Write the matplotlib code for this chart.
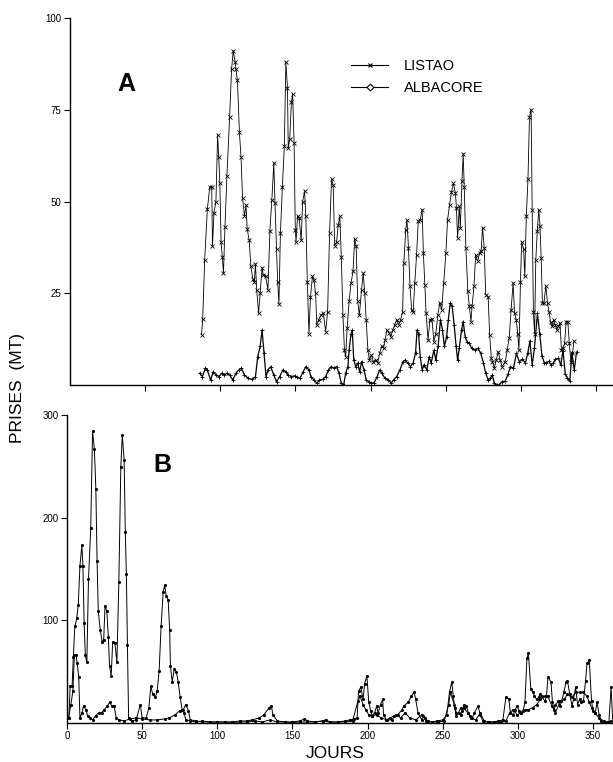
import numpy as np
import matplotlib
matplotlib.use("Agg")
import matplotlib.pyplot as plt
from matplotlib.lines import Line2D

plt.rcParams['font.family'] = ['Liberation Sans', 'DejaVu Sans']

# Panel A (day, catch in MT)
listao_a = [
    (87.5, 13.7), (88.3, 18), (89.6, 34), (91.4, 48), (93.0, 54), (94.3, 54), (94.8, 38), (95.8, 47),
    (97.1, 50), (98.2, 68), (99.0, 62), (99.7, 55), (100.5, 39), (101.3, 35), (102.1, 30.5), (103.1, 43),
    (104.4, 57), (106.2, 73), (107.5, 86), (108.6, 91), (109.9, 88), (110.4, 86), (111.4, 83), (112.7, 69),
    (113.8, 62), (114.8, 51), (116.1, 46), (117.1, 49), (117.9, 42.5), (119.2, 39.5), (120.3, 32.5), (121.6, 29),
    (122.6, 28), (123.4, 33), (124.2, 26), (125.5, 19.6), (126.5, 25), (127.8, 32), (128.6, 30), (130.1, 29.7),
    (131.7, 26), (133.0, 42), (134.3, 50.5), (135.6, 60.5), (136.4, 49.6), (137.4, 37), (138.2, 28), (139.0, 22),
    (140.0, 41.4), (141.3, 54), (142.6, 65), (143.6, 88), (144.7, 81), (145.2, 64.5), (146.2, 67), (147.3, 77),
    (148.1, 79.4), (149.1, 66), (149.9, 42.3), (150.4, 39), (151.4, 46), (152.5, 45.5), (153.8, 39.4), (154.8, 50),
    (156.1, 52.8), (156.9, 46), (157.9, 28), (159.0, 14), (160.0, 24), (161.3, 29.6), (162.3, 28.7), (163.4, 25),
    (164.2, 16.4), (165.5, 17.8), (167.0, 19), (168.6, 19.6), (170.1, 14.5), (171.4, 20), (172.7, 41.4), (174.0, 56),
    (175.1, 54.6), (176.1, 38), (177.4, 39), (178.4, 43.5), (179.5, 46), (180.5, 35), (181.6, 19), (182.6, 9.5),
    (183.4, 7.7), (184.4, 15.5), (185.7, 22.8), (187.0, 27.8), (188.3, 31), (189.4, 39.8), (190.4, 37.8), (191.4, 23),
    (192.5, 19), (194.0, 26), (195.1, 30.5), (196.1, 25), (197.1, 17.8), (198.2, 9.5), (199.2, 6.8), (200.5, 8.2),
    (201.8, 6.4), (203.4, 6.8), (204.7, 6), (206.0, 8.6), (207.3, 10.5), (208.6, 10), (209.6, 12.3), (210.9, 15),
    (212.2, 14.3), (213.5, 13.2), (214.8, 15), (216.1, 16.4), (217.4, 17.8), (218.7, 16.4), (220.0, 17.8), (221.3, 20),
    (222.1, 33.2), (223.4, 42.3), (224.2, 45), (225.2, 37.3), (226.2, 27), (227.3, 20.5), (228.3, 20), (229.4, 27.8),
    (230.6, 35.5), (231.7, 44.6), (233.0, 45), (234.3, 47.8), (235.1, 36), (236.1, 27.3), (236.9, 19.6), (238.2, 12.3),
    (239.5, 17.8), (240.8, 18), (242.1, 11.8), (243.4, 14), (244.7, 19), (246.0, 22.3), (247.3, 20.5), (248.6, 27.8),
    (250.1, 36), (251.2, 45), (252.5, 49), (253.8, 52.5), (255.1, 55), (256.4, 52.4), (257.1, 48.3), (257.9, 40),
    (259.0, 48.7), (259.7, 42.8), (260.8, 55.6), (261.6, 63), (262.3, 54), (263.4, 37.3), (264.7, 25.5), (265.7, 21.4),
    (266.8, 17.3), (267.5, 21.4), (268.8, 27), (269.9, 35.5), (271.2, 33.7), (272.5, 36), (273.5, 36.4), (274.5, 42.8),
    (275.6, 37.3), (276.6, 24.6), (278.2, 24.1), (279.2, 13.7), (280.3, 7.3), (281.0, 6.4), (282.3, 4.6), (283.6, 6.8),
    (284.9, 9.1), (286.2, 6.8), (287.5, 5), (289.6, 6.4), (290.9, 9.5), (292.2, 12.7), (293.5, 20.5), (294.8, 27.8),
    (295.8, 19.6), (296.9, 17.8), (297.9, 14), (298.7, 9.5), (299.7, 28), (300.5, 39), (301.8, 37), (302.6, 29.6),
    (303.6, 46), (304.7, 56), (305.7, 73), (306.8, 75), (307.5, 47.8), (308.3, 20), (309.1, 14), (309.9, 34),
    (310.9, 42), (311.9, 47.8), (312.7, 43.3), (313.5, 34.6), (314.3, 22.3), (315.3, 22.3), (316.6, 27), (317.7, 22.3),
    (318.7, 20), (319.7, 17.3), (320.8, 16), (321.8, 17.8), (322.9, 16.4), (323.9, 15), (324.9, 16), (326.0, 16.8),
    (327.0, 9.5), (328.1, 10), (329.1, 11.4), (330.1, 17.3), (331.2, 17.3), (332.2, 11.4), (333.2, 6.4), (334.3, 8.6),
    (335.3, 12),
]

albacore_a = [
    (86.2, 3.2), (88.1, 2.3), (90.1, 4.6), (91.4, 4.1), (93.5, 1.4), (95.3, 3.6), (97.4, 2.7), (99.2, 2.3),
    (101.0, 3.2), (102.6, 2.7), (104.4, 3.2), (106.2, 2.7), (108.3, 1.4), (110.4, 3.2), (112.2, 4.1), (114.0, 4.6),
    (116.1, 2.7), (118.7, 1.8), (121.3, 1.5), (123.4, 2.3), (124.9, 7.7), (126.5, 10.5), (127.8, 15), (129.1, 8.7),
    (130.4, 2.3), (131.7, 4.1), (133.5, 5), (135.6, 2.7), (137.4, 0.9), (139.5, 2.3), (141.6, 4.1), (143.4, 3.6),
    (145.2, 2.7), (147.3, 2.3), (149.4, 2.5), (151.2, 2.1), (153.0, 1.8), (155.1, 3.6), (156.9, 5), (159.0, 4.1),
    (160.3, 2.3), (162.3, 1.4), (164.2, 0.5), (166.0, 1.4), (168.1, 1.5), (170.1, 2.3), (171.9, 4), (173.8, 5),
    (175.8, 4.6), (177.4, 5), (179.0, 3.2), (180.5, 0.5), (182.1, 0), (183.4, 3.2), (184.9, 5), (185.7, 9.5),
    (187.0, 14), (187.8, 15), (188.8, 6.8), (190.1, 5), (191.4, 6), (192.7, 3.6), (194.0, 6.4), (195.6, 4.1),
    (197.1, 1.4), (198.7, 0.9), (200.5, 0.5), (202.3, 0.6), (204.4, 2.3), (206.0, 4.1), (207.5, 3.2), (209.6, 1.8),
    (211.7, 1.4), (213.8, 0.5), (215.3, 1.4), (217.4, 2.3), (219.5, 4.1), (221.6, 6.4), (223.1, 6.8), (224.7, 6),
    (226.5, 5), (228.3, 6), (229.9, 8.7), (230.9, 15), (231.9, 14), (233.0, 7.7), (234.3, 4.1), (235.6, 5.5),
    (237.4, 4.1), (239.0, 7.7), (240.3, 6), (242.1, 9.5), (243.4, 6.8), (244.9, 10.5), (246.5, 17.8), (247.8, 15),
    (249.1, 10.5), (250.6, 13.2), (251.7, 17.8), (253.0, 22.3), (254.3, 21.4), (255.6, 16.4), (256.9, 10.5), (257.9, 6.8),
    (259.0, 10), (260.5, 15), (261.6, 17.3), (262.9, 13.2), (264.2, 11.8), (265.7, 11.4), (267.3, 10), (269.4, 9.5),
    (271.4, 10), (273.2, 8.7), (275.1, 6), (276.6, 3.2), (278.2, 1.4), (279.7, 1.8), (281.0, 2.7), (282.3, 0.5),
    (283.9, 0), (285.5, 0), (287.5, 0.9), (289.5, 1), (291.5, 3), (293.0, 5), (295.0, 4.5), (297.0, 8.6),
    (299.0, 6.3), (301.0, 7), (303.0, 6), (304.5, 8.6), (306.0, 12), (307.5, 5.4), (309.0, 10), (311.0, 19.5),
    (312.5, 14), (314.0, 8), (315.5, 6.1), (317.0, 6), (318.5, 6.5), (320.0, 5.5), (321.5, 6), (323.0, 7),
    (325.0, 7.3), (326.5, 5.4), (328.0, 9.4), (329.5, 3), (331.0, 1.8), (332.5, 1), (334.0, 8.7), (335.5, 4),
    (337.0, 9),
]

# Panel B
listao_b = [
    (1.3, 5), (2.1, 36), (3.4, 36), (4.2, 64), (5.2, 94), (6.5, 102), (7.5, 115), (8.6, 153),
    (9.9, 173), (10.6, 153), (11.4, 97), (12.2, 66), (13.2, 59), (14.3, 140), (15.8, 190), (17.0, 284),
    (18.2, 267), (19.2, 228), (20.0, 158), (20.8, 109), (22.1, 91), (23.4, 79), (24.4, 81), (25.3, 114),
    (26.5, 109), (27.5, 84), (28.3, 56), (29.4, 46), (30.4, 79), (31.9, 77.5), (33.2, 59), (34.5, 137),
    (35.8, 249), (36.8, 281), (38.0, 256), (38.8, 186), (39.5, 145), (40.2, 76), (41.0, 5), (43.0, 2),
    (46.0, 3), (48.8, 18), (50.0, 5), (52.7, 5), (54.5, 15), (55.8, 36), (57.0, 28), (58.7, 25),
    (60.0, 31), (61.3, 51), (62.6, 94), (64.0, 128), (65.0, 134), (66.0, 124), (67.3, 120), (68.3, 91),
    (68.8, 56), (70.0, 40), (71.4, 53), (72.7, 50), (74.0, 40), (75.3, 25), (76.6, 13), (78.0, 10),
    (79.0, 3), (82.0, 2), (86.0, 1), (90.0, 2), (95.0, 1), (100.0, 1), (105.0, 1), (110.0, 1),
    (115.0, 2), (120.0, 2), (123.0, 3), (128.0, 5), (131.0, 8), (134.5, 15), (136.0, 16.5), (137.0, 8),
    (140.0, 2), (145.0, 1), (150.0, 1), (155.0, 2), (158.0, 4), (160.0, 2), (165.0, 1), (170.0, 2),
    (172.0, 3), (175.0, 1), (180.0, 1), (185.0, 2), (188.0, 3), (191.0, 4), (193.0, 5), (194.0, 31),
    (195.5, 35), (197.0, 23), (198.0, 38), (199.5, 46), (200.8, 20), (202.0, 12), (203.0, 7), (204.7, 10),
    (206.0, 16.5), (207.0, 10), (208.6, 18), (210.0, 23), (210.6, 8), (212.5, 3), (215.0, 5), (217.7, 7),
    (220.0, 8), (223.0, 13), (224.0, 16.5), (227.0, 20), (229.0, 26), (231.0, 30), (232.0, 23), (233.5, 10),
    (236.0, 3), (237.0, 7), (238.0, 5), (240.0, 2), (243.0, 1), (246.0, 2), (250.0, 3), (252.7, 8),
    (254.5, 30), (256.0, 40), (257.0, 26), (258.0, 15), (259.0, 7), (260.5, 10), (262.0, 15), (263.0, 12),
    (264.4, 18), (265.7, 16.5), (267.0, 10), (268.0, 7), (269.6, 5), (271.0, 10), (273.5, 16.5), (275.0, 8),
    (276.6, 2), (280.0, 1), (284.0, 1), (287.0, 2), (290.0, 3), (292.0, 25), (294.0, 23), (295.0, 10),
    (297.0, 8), (298.0, 13), (299.5, 16.5), (300.8, 12), (302.0, 10), (303.4, 12), (304.7, 20), (306.0, 63),
    (307.0, 68), (308.6, 33), (310.0, 30), (311.0, 26), (312.5, 23), (313.8, 25), (315.0, 28), (316.0, 26),
    (318.0, 21), (319.0, 26), (320.0, 45), (322.0, 40), (323.0, 20), (324.0, 13), (325.0, 18), (327.0, 21),
    (328.0, 16.5), (329.0, 21), (330.6, 30), (332.0, 40), (333.0, 41), (334.5, 28), (336.0, 16.5), (337.0, 23),
    (338.4, 35), (339.7, 18), (341.0, 23), (342.0, 20), (343.6, 21), (345.0, 41), (346.0, 58), (347.5, 61),
    (349.0, 21), (350.0, 12), (351.4, 10), (352.7, 20), (354.0, 8), (355.0, 2), (358.0, 0), (360.5, 0),
    (362.0, 35), (363.0, 5),
]

albacore_b = [
    (1.0, 5), (2.6, 18), (3.9, 31), (4.9, 66), (6.0, 66), (6.8, 58), (7.8, 45), (8.6, 5),
    (10.0, 10), (11.0, 16.5), (12.5, 13), (13.8, 7), (15.0, 5), (17.0, 3), (19.0, 7), (21.0, 10),
    (23.0, 10), (24.7, 13), (26.8, 16.5), (28.3, 20), (30.0, 16.5), (31.4, 16.5), (32.7, 5), (34.5, 3),
    (38.0, 2), (42.0, 4), (46.0, 5), (50.0, 4), (55.0, 3), (60.0, 3), (65.0, 4), (68.0, 5),
    (72.0, 8), (75.0, 12), (77.4, 13), (79.0, 18), (80.8, 12), (82.0, 3), (86.0, 2), (90.0, 1),
    (95.0, 1), (100.0, 1), (105.0, 1), (110.0, 0.5), (115.0, 1), (120.0, 1), (125.0, 2), (130.0, 1),
    (135.0, 3), (140.0, 1), (145.0, 1), (150.0, 0.5), (155.0, 1), (160.0, 1), (165.0, 1), (170.0, 2),
    (175.0, 1), (180.0, 1), (185.0, 1), (190.0, 2), (193.5, 21), (195.0, 26), (197.0, 18), (198.7, 13),
    (200.8, 8), (203.0, 7), (206.0, 8), (209.0, 5), (213.0, 3), (216.0, 3), (219.0, 8), (222.0, 5),
    (225.0, 10), (228.0, 5), (232.0, 3), (236.0, 8), (239.0, 2), (243.0, 1), (247.0, 1), (251.0, 2),
    (254.0, 18), (255.0, 30), (257.7, 18), (259.0, 10), (262.0, 8), (264.0, 15), (266.5, 10), (269.0, 5),
    (272.0, 3), (275.0, 10), (277.5, 2), (281.0, 1), (285.0, 1), (289.0, 1), (292.0, 2), (294.5, 10),
    (297.0, 13), (299.5, 8), (302.0, 10), (304.7, 13), (307.0, 13), (310.0, 15), (312.5, 18), (315.0, 23),
    (318.0, 26), (320.0, 26), (322.5, 17), (325.0, 10), (328.0, 21), (330.6, 23), (333.0, 28), (336.0, 25),
    (338.4, 30), (341.0, 30), (343.6, 30), (346.0, 26), (347.5, 20), (349.0, 15), (351.0, 10), (354.0, 5),
    (357.0, 2), (359.5, 1), (362.0, 2),
]

ticks_a_y = [25, 50, 75, 100]
ticks_b_y = [100, 200, 300]
ticks_x = [0, 50, 100, 150, 200, 250, 300, 350]


def style_axis(ax):
    for side in ('top', 'right'):
        ax.spines[side].set_visible(False)
    for side in ('left', 'bottom'):
        ax.spines[side].set_linewidth(1.0)
    ax.tick_params(direction='out', length=4, width=0.8, labelsize=7, pad=2)


W, H = 613, 762
fig = plt.figure(figsize=(W / 100, H / 100), dpi=100)

# top panel: axis from px 70 to the right edge, y 18..385
axA = fig.add_axes([70 / W, 1 - 385 / H, (W - 70) / W, (385 - 18) / H])
la = np.array(listao_a)
aa = np.array(albacore_a)
axA.plot(la[:, 0], la[:, 1], color='black', lw=0.6, marker='x', ms=2.5, mew=0.6)
axA.plot(aa[:, 0], aa[:, 1], color='black', lw=0.9, marker='+', ms=2.5, mew=0.6)
axA.set_xlim(0, (W - 70) / 1.503)
axA.set_ylim(0, 100)
axA.set_yticks(ticks_a_y)
axA.set_xticks(ticks_x[1:])
axA.set_xticklabels([])
style_axis(axA)

# legend drawn by hand (markers + line + label)
handles = [
    Line2D([], [], color='black', lw=0.8, marker='x', ms=3.5, mew=0.8),
    Line2D([], [], color='black', lw=0.8, marker='D', ms=3.5, mfc='white', mew=0.8),
]
axA.legend(handles, ['LISTAO', 'ALBACORE'], loc='upper left', bbox_to_anchor=(0.494, 0.925),
           frameon=False, fontsize=10.5, handlelength=2.5, handletextpad=1.1, labelspacing=0.6)

# bottom panel: axis from px 67 to the right edge, y 415..723
axB = fig.add_axes([67 / W, 1 - 723 / H, (W - 67) / W, (723 - 415) / H])
lb = np.array(listao_b)
ab = np.array(albacore_b)
axB.plot(lb[:, 0], lb[:, 1], color='black', lw=0.7, marker='.', ms=2.5)
axB.plot(ab[:, 0], ab[:, 1], color='black', lw=0.7, marker='.', ms=2.5)
axB.set_xlim(0, (W - 67) / 1.503)
axB.set_ylim(0, 300)
axB.set_yticks(ticks_b_y)
axB.set_xticks(ticks_x)
style_axis(axB)

fig.text(126 / W, 1 - 84 / H, 'A', fontsize=18, fontweight='bold', ha='center', va='center')
fig.text(162 / W, 1 - 465 / H, 'B', fontsize=18, fontweight='bold', ha='center', va='center')
fig.text(18 / W, 1 - 388 / H, 'PRISES  (MT)', fontsize=12.5, rotation=90, ha='center', va='center')
fig.text(335 / W, 1 - 753 / H, 'JOURS', fontsize=12.5, ha='center', va='center')

fig.savefig('out.png', dpi=100)
